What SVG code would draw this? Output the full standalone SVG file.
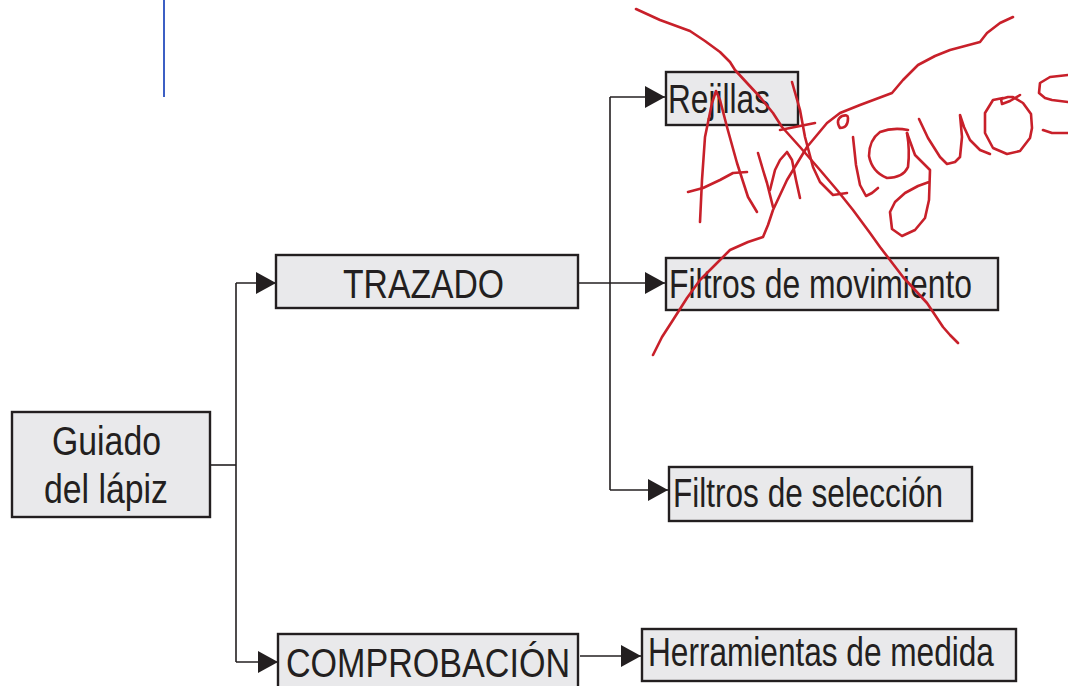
<svg xmlns="http://www.w3.org/2000/svg" width="1068" height="686" viewBox="0 0 1068 686">
<style>
.box{fill:#e9e9eb;stroke:#231f20;stroke-width:2.4}
.t{font-family:"Liberation Sans",Arial,sans-serif;font-size:40px;fill:#231f20}
.c{fill:none;stroke:#231f20;stroke-width:1.6}
.r{fill:none;stroke:#c8202a;stroke-width:2.6;stroke-linecap:round;stroke-linejoin:round}
</style>
<defs>
<marker id="ah" markerUnits="userSpaceOnUse" markerWidth="20" markerHeight="22" refX="20" refY="11" orient="auto">
<path d="M0,0 L20,11 L0,22 Z" fill="#231f20"/>
</marker>
</defs>
<rect width="1068" height="686" fill="#ffffff"/>
<line x1="164" y1="0" x2="164" y2="97" stroke="#3c5fc4" stroke-width="2"/>
<g id="connectors">
<path class="c" d="M210,465 H236"/>
<path class="c" d="M236,283 V662"/>
<path class="c" d="M236,283 H276" marker-end="url(#ah)"/>
<path class="c" d="M236,662 H278" marker-end="url(#ah)"/>
<path class="c" d="M578,283 H665" marker-end="url(#ah)"/>
<path class="c" d="M610,97 V490"/>
<path class="c" d="M610,97 H665" marker-end="url(#ah)"/>
<path class="c" d="M610,490 H668" marker-end="url(#ah)"/>
<path class="c" d="M580,656 H641" marker-end="url(#ah)"/>
</g>
<g id="guiado">
<rect class="box" x="12" y="412" width="198" height="105"/>
<text class="t" x="52" y="455" textLength="109" lengthAdjust="spacingAndGlyphs">Guiado</text>
<text class="t" x="44" y="503" textLength="124" lengthAdjust="spacingAndGlyphs">del lápiz</text>
</g>
<g id="trazado">
<rect class="box" x="276" y="255" width="302" height="53"/>
<text class="t" x="343" y="298" textLength="161" lengthAdjust="spacingAndGlyphs">TRAZADO</text>
</g>
<g id="rejillas">
<rect class="box" x="666" y="72" width="132" height="53"/>
<text class="t" x="668" y="113" textLength="102" lengthAdjust="spacingAndGlyphs">Rejillas</text>
</g>
<g id="filtros-movimiento">
<rect class="box" x="666" y="258" width="332" height="52"/>
<text class="t" x="669" y="298" textLength="303" lengthAdjust="spacingAndGlyphs">Filtros de movimiento</text>
</g>
<g id="filtros-seleccion">
<rect class="box" x="669" y="467" width="303" height="54"/>
<text class="t" x="673" y="507" textLength="270" lengthAdjust="spacingAndGlyphs">Filtros de selección</text>
</g>
<g id="comprobacion">
<rect class="box" x="278" y="634" width="300" height="60"/>
<text class="t" x="286" y="677" textLength="284" lengthAdjust="spacingAndGlyphs">COMPROBACIÓN</text>
</g>
<g id="herramientas">
<rect class="box" x="642" y="629" width="374" height="52"/>
<text class="t" transform="translate(648,666) scale(0.79,1)" x="0" y="0" font-size="37">Herramientas de medida</text>
</g>
<g id="antiguos">
<polyline class="r" points="636,9 660,20 690,31 705,41 720,52 730,62 735,70 747,83 760,97 773,113 782,127 800,147 820,170 837,190 853,210 870,233 880,247 903,277 927,303 943,327 950,335 958,343"/>
<polyline class="r" points="653,355 662,337 673,320 687,298 700,280 715,265 730,250 748,242 763,237 768,225 773,210 787,180 807,147 827,123 840,113 860,105 876,99 892,93 903,80 918,65 935,56 950,50 965,46 980,42 987,33 1000,23 1013,17"/>
<polyline class="r" points="700,222 702,180 705,137 712,103 716,91 720,100 727,127 737,163 748,197 757,212"/>
<polyline class="r" points="688,192 703,188 720,180 733,173 747,172"/>
<polyline class="r" points="758,153 763,170 767,183 773,207"/>
<polyline class="r" points="770,190 775,170 780,160 787,152 792,160 796,180 800,198"/>
<polyline class="r" points="792,82 800,110 805,137 813,167 820,182 833,195 847,193"/>
<polyline class="r" points="780,130 815,123"/>
<path class="r" d="M848,118 Q848,128 840,128 Q835,120 842,116 Q848,114 848,118"/>
<polyline class="r" points="853,137 856,165 860,185 866,196 872,193 878,188"/>
<path class="r" d="M908,130 Q893,127 880,132 Q869,140 869,156 Q872,172 887,178 Q903,178 908,167 Q910,150 907,133"/>
<polyline class="r" points="907,133 915,155 930,170 929,200 925,218 915,230 902,236 892,229 890,212 895,202 905,193 918,186 929,182"/>
<polyline class="r" points="919,119 928,138 940,157 947,164 955,162 960,157 962,137 960,115 964,127 970,140 980,150 990,154"/>
<polyline class="r" points="1020,95 1010,101 1002,104 1001,99 1008,97 1013,97 1023,103 1031,114 1032,128 1030,138 1020,151 1007,154 993,148 985,133 985,113 993,100 1003,98"/>
<polyline class="r" points="1068,75 1050,77 1040,83 1039,93 1045,98 1052,100 1068,102"/>
<polyline class="r" points="1043,130 1052,133 1068,133"/>
</g>
</svg>
